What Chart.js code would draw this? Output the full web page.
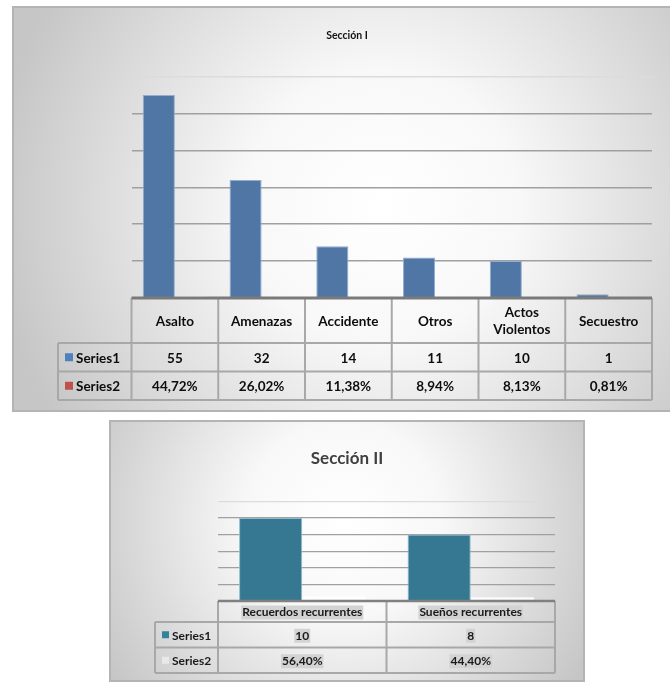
<!DOCTYPE html>
<html>
<head>
<meta charset="utf-8">
<script src="https://cdn.jsdelivr.net/npm/chart.js@4.4.1/dist/chart.umd.min.js"></script>
<style>
  html, body { margin: 0; padding: 0; background: #fff; overflow: hidden; }
  .panel { position: absolute; }
  #box1 { left: 12px; top: 6px; width: 670px; height: 406px; }
  #box2 { left: 109px; top: 420px; width: 476px; height: 262px; }
</style>
</head>
<body>
<div class="panel" id="box1"><canvas id="chart1"></canvas></div>
<div class="panel" id="box2"><canvas id="chart2"></canvas></div>
<script>
// --- Sección I ---
const catsI = ['Asalto', 'Amenazas', 'Accidente', 'Otros', ['Actos', 'Violentos'], 'Secuestro'];
const seriesI1 = [55, 32, 14, 11, 10, 1];
const seriesI2 = [0.4472, 0.2602, 0.1138, 0.0894, 0.0813, 0.0081];
const yMaxI = 60, yStepI = 10;

// --- Sección II ---
const catsII = ['Recuerdos recurrentes', 'Sueños recurrentes'];
const seriesII1 = [10, 8];
const seriesII2 = [0.564, 0.444];
const yMaxII = 12, yStepII = 2;

const FONT = 'Lato, "Open Sans", sans-serif';
const fmtInt = v => String(v);
const fmtPct = v => (v * 100).toFixed(2).replace('.', ',') + '%';

// grey radial background + border, like the Excel chart area
const panelBg = {
  id: 'panelBg',
  beforeDraw(chart, args, o) {
    const {ctx, width, height} = chart;
    const g = ctx.createRadialGradient(o.cx, o.cy, 0, o.cx, o.cy, o.r);
    g.addColorStop(0, '#ffffff');
    g.addColorStop(0.35, '#f8f8f8');
    g.addColorStop(1, '#c6c6c6');
    ctx.save();
    ctx.fillStyle = g;
    ctx.fillRect(0, 0, width, height);
    ctx.strokeStyle = '#b4b4b4';
    ctx.lineWidth = 2;
    ctx.strokeRect(1, 1, width - 2, height - 2);
    ctx.restore();
  }
};

// data table under the plot, columns follow the x scale
const dataTable = {
  id: 'dataTable',
  afterDraw(chart, args, o) {
    const ctx = chart.ctx, a = chart.chartArea, xs = chart.scales.x;
    const labels = chart.data.labels, sets = chart.data.datasets;
    const cw = (a.right - a.left) / labels.length;
    const top = a.bottom, hBot = top + o.headH;
    const bot = hBot + o.rowH * sets.length;
    const line = (x1, y1, x2, y2) => { ctx.beginPath(); ctx.moveTo(x1, y1); ctx.lineTo(x2, y2); ctx.stroke(); };

    ctx.save();
    ctx.strokeStyle = o.lineColor;
    ctx.lineWidth = o.lineW;
    for (let i = 0; i <= sets.length; i++) line(o.left, hBot + i * o.rowH, a.right, hBot + i * o.rowH);
    line(o.left, hBot, o.left, bot);
    for (let j = 0; j <= labels.length; j++) line(a.left + j * cw, top, a.left + j * cw, bot);
    ctx.strokeStyle = o.axisColor;
    ctx.lineWidth = o.axisW;
    line(a.left, top, a.right, top);

    ctx.font = o.font;
    ctx.textAlign = 'center';
    ctx.textBaseline = 'middle';
    const put = (txt, x, y) => {
      if (o.highlight) {
        const w = ctx.measureText(txt).width;
        ctx.fillStyle = o.highlight;
        ctx.fillRect(x - w / 2 - 1, y - o.lineH / 2, w + 2, o.lineH);
      }
      ctx.fillStyle = o.color;
      ctx.fillText(txt, x, y);
    };
    labels.forEach((l, j) => {
      const lines = Array.isArray(l) ? l : [l];
      const cx = xs.getPixelForValue(j);
      lines.forEach((t, k) => put(t, cx, top + o.headH / 2 + (k - (lines.length - 1) / 2) * o.lineH + 1));
    });
    sets.forEach((s, i) => {
      const cy = hBot + o.rowH * (i + 0.5);
      ctx.fillStyle = o.keys[i];
      ctx.fillRect(o.left + o.keyX, cy - o.keySize / 2, o.keySize, o.keySize);
      ctx.fillStyle = o.color;
      ctx.textAlign = 'left';
      ctx.fillText(s.label, o.left + o.keyX + o.keySize + 3, cy + 1);
      ctx.textAlign = 'center';
      s.data.forEach((v, j) => put(o.formats[i](v), xs.getPixelForValue(j), cy + 1));
    });
    ctx.restore();
  }
};

const gridColor = (max) => c => c.tick.value === max ? '#dcdcdc' : (c.tick.value === 0 ? 'rgba(0,0,0,0)' : '#a0a0a0');

new Chart(document.getElementById('chart1'), {
  type: 'bar',
  data: {
    labels: catsI,
    datasets: [
      { label: 'Series1', data: seriesI1, backgroundColor: '#4f76a5', borderColor: '#93add0', borderWidth: 1 },
      { label: 'Series2', data: seriesI2, backgroundColor: 'rgba(255,255,255,0.9)', borderWidth: 0 }
    ]
  },
  options: {
    responsive: true, maintainAspectRatio: false, animation: false,
    layout: { padding: { left: 30, right: 30, top: 0, bottom: 114 } },
    datasets: { bar: { categoryPercentage: 0.74, barPercentage: 1 } },
    plugins: {
      legend: { display: false },
      tooltip: { enabled: false },
      title: { display: true, text: 'Sección I', color: '#111', font: { family: FONT, size: 10.5, weight: 'bold' }, padding: { top: 23, bottom: 35 } },
      panelBg: { cx: 370, cy: 200, r: 390 },
      dataTable: {
        left: 46, headH: 45, rowH: 28.5, lineH: 17,
        font: 'bold 13.5px ' + FONT, color: '#0d0d0d',
        lineColor: '#a8a8a8', lineW: 2, axisColor: '#7a7a7a', axisW: 3,
        keys: ['#4f81bd', '#c0504d'], keyX: 7, keySize: 8,
        formats: [fmtInt, fmtPct]
      }
    },
    scales: {
      x: { display: false },
      y: {
        min: 0, max: yMaxI,
        ticks: { stepSize: yStepI, display: false },
        grid: { drawTicks: false, color: gridColor(yMaxI), lineWidth: 1.6 },
        border: { display: false },
        afterFit(s) { s.width = 89.5; }
      }
    }
  },
  plugins: [panelBg, dataTable]
});

new Chart(document.getElementById('chart2'), {
  type: 'bar',
  data: {
    labels: catsII,
    datasets: [
      { label: 'Series1', data: seriesII1, backgroundColor: '#367891', borderColor: '#8dbccc', borderWidth: 1 },
      { label: 'Series2', data: seriesII2, backgroundColor: 'rgba(255,255,255,0.85)', borderWidth: 0 }
    ]
  },
  options: {
    responsive: true, maintainAspectRatio: false, animation: false,
    layout: { padding: { left: 30, right: 30, top: 0, bottom: 81 } },
    datasets: { bar: { categoryPercentage: 0.75, barPercentage: 1 } },
    plugins: {
      legend: { display: false },
      tooltip: { enabled: false },
      title: { display: true, text: 'Sección II', color: '#404040', font: { family: FONT, size: 17, weight: 'bold' }, padding: { top: 28, bottom: 33 } },
      panelBg: { cx: 235, cy: 100, r: 280 },
      dataTable: {
        left: 46, headH: 21, rowH: 25.5, lineH: 14,
        font: 'bold 12px ' + FONT, color: '#1a1a1a',
        lineColor: '#a8a8a8', lineW: 2, axisColor: '#808080', axisW: 2.5,
        keys: ['#31849b', '#e9e9e9'], keyX: 7, keySize: 7,
        formats: [fmtInt, fmtPct], highlight: '#d3d3d3'
      }
    },
    scales: {
      x: { display: false },
      y: {
        min: 0, max: yMaxII,
        ticks: { stepSize: yStepII, display: false },
        grid: { drawTicks: false, color: gridColor(yMaxII), lineWidth: 1.3 },
        border: { display: false },
        afterFit(s) { s.width = 79; }
      }
    }
  },
  plugins: [panelBg, dataTable]
});
</script>
</body>
</html>
